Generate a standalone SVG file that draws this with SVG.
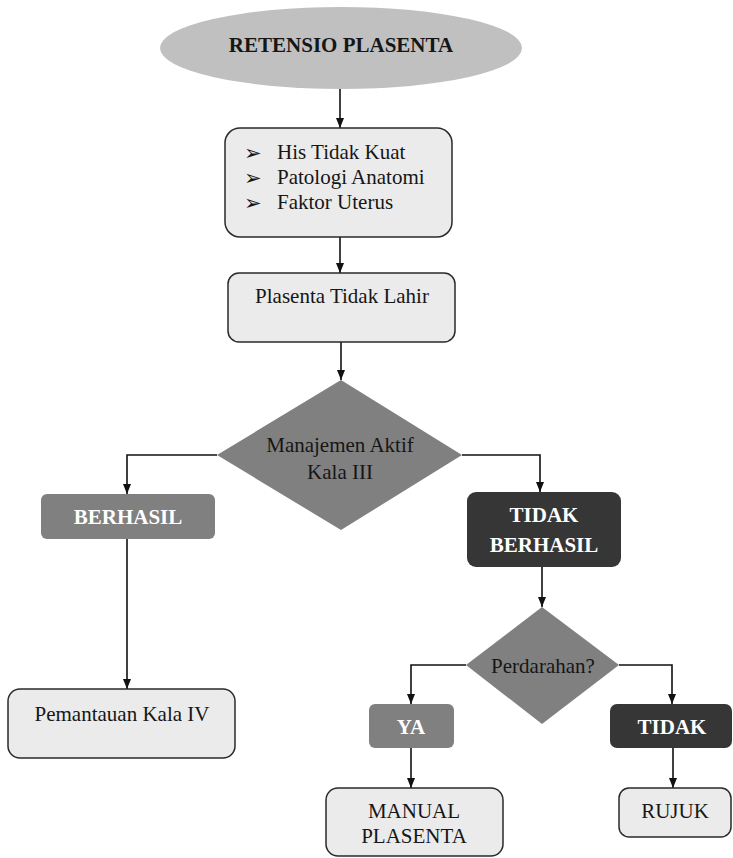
<svg xmlns="http://www.w3.org/2000/svg" width="733" height="858" viewBox="0 0 733 858">
<defs>
<marker id="arr" viewBox="0 0 10 8" refX="10" refY="4" markerWidth="10" markerHeight="8" markerUnits="userSpaceOnUse" orient="auto">
<path d="M0,0 L10,4 L0,8 z" fill="#111"/>
</marker>
<style>
text{font-family:'Liberation Serif','DejaVu Serif',serif;font-size:21px;fill:#161616}
.c{text-anchor:middle}
.b{font-weight:bold}
.w{fill:#ffffff}
.box{fill:#ebebeb;stroke:#2a2a2a;stroke-width:1.5}
.gray{fill:#808080}
.dark{fill:#363636}
.dia{fill:#808080}
.bul{font-family:'DejaVu Sans',sans-serif;font-size:21px}
#connectors path{fill:none;stroke:#111;stroke-width:1.6;marker-end:url(#arr)}
</style>
</defs>
<rect width="733" height="858" fill="#ffffff"/>
<g id="connectors">
<path d="M340,89 V128"/>
<path d="M340,237 V273"/>
<path d="M341,342 V380"/>
<path d="M217,455 H127 V494"/>
<path d="M462,455 H540 V492"/>
<path d="M127,539 V689"/>
<path d="M542,567 V607"/>
<path d="M466,665 H411 V704"/>
<path d="M619,665 H672 V704"/>
<path d="M411,748 V788"/>
<path d="M673,748 V788"/>
</g>
<g id="retensio">
<ellipse cx="341" cy="48" rx="181" ry="41" fill="#c0c0c0"/>
<text class="c b" x="341" y="52">RETENSIO PLASENTA</text>
</g>
<g id="penyebab">
<rect class="box" x="225" y="128" width="227" height="109" rx="15"/>
<text class="bul" x="244" y="160">➢</text>
<text class="bul" x="244" y="185">➢</text>
<text class="bul" x="244" y="210">➢</text>
<text x="277" y="159">His Tidak Kuat</text>
<text x="277" y="184">Patologi Anatomi</text>
<text x="277" y="209">Faktor Uterus</text>
</g>
<g id="tidak-lahir">
<rect class="box" x="228" y="273" width="227" height="69" rx="11"/>
<text class="c" x="342" y="303">Plasenta Tidak Lahir</text>
</g>
<g id="manajemen">
<polygon class="dia" points="341,380 462,455 341,530 217,455"/>
<text class="c" x="340" y="452">Manajemen Aktif</text>
<text class="c" x="340" y="479">Kala III</text>
</g>
<g id="berhasil">
<rect class="gray" x="41" y="494" width="174" height="45" rx="6"/>
<text class="c b w" x="128" y="524">BERHASIL</text>
</g>
<g id="tidak-berhasil">
<rect class="dark" x="467" y="492" width="154" height="75" rx="9"/>
<text class="c b w" x="544" y="522">TIDAK</text>
<text class="c b w" x="544" y="552">BERHASIL</text>
</g>
<g id="pemantauan">
<rect class="box" x="8" y="689" width="227" height="69" rx="12"/>
<text class="c" x="122" y="721">Pemantauan Kala IV</text>
</g>
<g id="perdarahan">
<polygon class="dia" points="542,607 619,665 542,724 466,665"/>
<text class="c" x="543" y="673">Perdarahan?</text>
</g>
<g id="ya">
<rect class="gray" x="369" y="704" width="85" height="44" rx="6"/>
<text class="c b w" x="411" y="734">YA</text>
</g>
<g id="tidak">
<rect class="dark" x="610" y="704" width="122" height="44" rx="7"/>
<text class="c b w" x="672" y="734">TIDAK</text>
</g>
<g id="manual">
<rect class="box" x="326" y="788" width="177" height="68" rx="12"/>
<text class="c" x="414" y="818">MANUAL</text>
<text class="c" x="414" y="843">PLASENTA</text>
</g>
<g id="rujuk">
<rect class="box" x="619" y="788" width="112" height="49" rx="10"/>
<text class="c" x="675" y="818">RUJUK</text>
</g>
</svg>
